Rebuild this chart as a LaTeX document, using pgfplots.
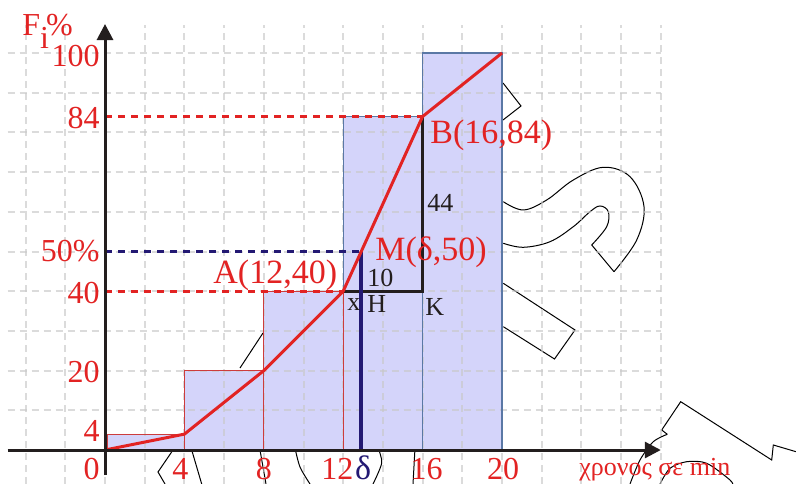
\documentclass[border=0pt]{standalone}
\usepackage{fontspec}
\setmainfont{Liberation Serif}
\usepackage{pgfplots}
\pgfplotsset{compat=1.18}
\usetikzlibrary{arrows.meta}
\definecolor{myred}{RGB}{226,35,35}
\definecolor{barfill}{RGB}{212,212,250}
\definecolor{barred}{RGB}{205,60,60}
\definecolor{barblue}{RGB}{90,120,165}
\definecolor{navy}{RGB}{35,25,115}
\definecolor{gridgray}{RGB}{200,200,200}
\definecolor{axisblack}{RGB}{35,30,30}

\begin{document}
\begin{tikzpicture}[
  big/.style={font=\fontsize{16}{18}\selectfont, inner sep=0pt},
  bigger/.style={font=\fontsize{17}{19}\selectfont, inner sep=0pt},
  small/.style={font=\fontsize{13}{15}\selectfont, inner sep=0pt},
]
% leftover clip-art outlines behind the chart (pixel coordinates)
\begin{scope}[shift={(0pt,242pt)}, x=0.5pt, y=-0.5pt, black, line width=0.5pt]
\clip (0,0) rectangle (796,484);
\draw (503,83) -- (521,106) -- (503,120);
\draw plot[smooth, tension=0.6] coordinates {(503.3,201.7) (523.3,210) (546.7,200)
  (573.3,180) (603.3,167.3) (630,176.7) (644,206.7) (636.7,240) (614,271.7)};
\draw plot[smooth, tension=0.6] coordinates {(503.3,243.3) (523.3,247.3) (550,241.7)
  (573.3,226.7) (590,211.7) (600,206) (608.3,211.7) (606.7,226.7) (591.7,245)};
\draw (591.7,245) -- (614,271.7);
\draw (503.3,283.3) -- (575,330) -- (554.5,359) -- (503.3,326.7);
\draw (667.3,434.3) -- (661.7,430) -- (680.7,401.7) -- (771.7,460) -- (773.3,445) -- (796,451.7);
\draw plot[smooth] coordinates {(667.3,434.3) (653.3,441.7) (640,460) (630,484)};
\draw plot[smooth] coordinates {(660,484) (670,468.3) (686.7,461.7) (706.7,463.3) (730,480) (733,486)};
\draw (173,450) -- (158,472) -- (165,484);
\draw (191.7,450) -- (201.7,484);
\draw (240,368) -- (263,333);
\draw (260,450) -- (266,484);
\draw plot[smooth] coordinates {(295,448) (300,467) (310,484)};
\draw plot[smooth] coordinates {(378,448) (381.7,463) (373,484)};
\draw (415,448) -- (413,484);
\end{scope}
\begin{axis}[
  x=9.925pt, y=1.985pt,
  xmin=-5.29, xmax=34.81, ymin=-8.56, ymax=113.35,
  hide axis, clip=false,
]
\path (rel axis cs:0,0) rectangle (rel axis cs:1,1);
% bar fills
\addplot[ybar interval, fill=barfill, draw=none]
  coordinates {(12,84) (16,100) (20,100)};
\addplot[ybar interval, fill=barfill, draw=none]
  coordinates {(0.1,4) (4,20) (8,40) (12,40)};
% grid (shows through the bars)
\pgfplotsinvokeforeach{-4,-2,...,28}{
  \draw[gridgray, opacity=0.65, line width=1pt, dash pattern=on 3.5pt off 2.5pt]
    (axis cs:#1,-8.56) -- (axis cs:#1,107);
}
\pgfplotsinvokeforeach{10,20,...,100}{
  \draw[gridgray, opacity=0.65, line width=1pt, dash pattern=on 3.5pt off 2.5pt]
    (axis cs:-4.9,#1) -- (axis cs:28,#1);
}
% bar outlines
\addplot[ybar interval, fill=none, draw=barblue, line width=0.6pt]
  coordinates {(12,84) (16,100) (20,100)};
\addplot[ybar interval, fill=none, draw=barred, line width=0.6pt]
  coordinates {(0.1,4) (4,20) (8,40) (12,40)};
% guide lines
\addplot[myred, line width=1.3pt, dash pattern=on 3.5pt off 3pt]
  coordinates {(0,84) (16,84)};
\addplot[myred, line width=1.3pt, dash pattern=on 3.5pt off 3pt]
  coordinates {(0,40) (12,40)};
\addplot[navy, line width=1.3pt, dash pattern=on 3.5pt off 3pt]
  coordinates {(0,50) (12.91,50)};
\addplot[axisblack, line width=1.7pt]
  coordinates {(12,40) (16,40) (16,84)};
\addplot[navy, line width=2pt]
  coordinates {(12.91,0) (12.91,50)};
% ogive
\addplot[myred, line width=1.5pt]
  coordinates {(0,0) (4,4) (8,20) (12,40) (16,84) (20,100)};
% axes
\draw[axisblack, line width=1.5pt, -{Triangle[length=8pt, width=8pt]}]
  (axis cs:-4.9,0) -- (axis cs:28,0);
\draw[axisblack, line width=1.5pt, -{Triangle[length=8pt, width=8pt]}]
  (axis cs:0,-6.3) -- (axis cs:0,107.3);
% axis titles
\node[big, text=myred, anchor=base west] at (axis cs:-4.18,104.5)
  {F\raisebox{-6.5pt}{i}\kern-1.5pt\%};
\node[small, text=myred, anchor=base] at (axis cs:27.7,-6.5) {χρονος σε min};
% y tick labels
\node[big, text=myred, anchor=east] at (axis cs:-0.25,99.3) {100};
\node[big, text=myred, anchor=east] at (axis cs:-0.25,83.6) {84};
\node[big, text=myred, anchor=east] at (axis cs:-0.25,50) {50\%};
\node[big, text=myred, anchor=east] at (axis cs:-0.25,39.5) {40};
\node[big, text=myred, anchor=east] at (axis cs:-0.25,19.6) {20};
\node[big, text=myred, anchor=east] at (axis cs:-0.25,4.8) {4};
% x tick labels
\node[big, text=myred, anchor=base east] at (axis cs:-0.25,-7.5) {0};
\node[big, text=myred, anchor=base] at (axis cs:3.8,-7.5) {4};
\node[big, text=myred, anchor=base] at (axis cs:8,-7.5) {8};
\node[big, text=myred, anchor=base] at (axis cs:11.7,-7.5) {12};
\node[bigger, text=navy, anchor=base] at (axis cs:13.0,-7.5) {δ};
\node[big, text=myred, anchor=base] at (axis cs:16.2,-7.5) {16};
\node[big, text=myred, anchor=base] at (axis cs:20.05,-7.5) {20};
% point labels
\node[bigger, text=myred, anchor=base west] at (axis cs:5.44,42) {A(12,40)};
\node[bigger, text=myred, anchor=base west] at (axis cs:13.6,47.8) {M(δ,50)};
\node[bigger, text=myred, anchor=base west] at (axis cs:16.37,77.3) {B(16,84)};
\node[small, text=axisblack, anchor=base west] at (axis cs:16.22,60) {44};
\node[small, text=axisblack, anchor=base west] at (axis cs:13.2,41.2) {10};
\node[small, text=axisblack, anchor=base west] at (axis cs:12.19,35.1) {x};
\node[small, text=axisblack, anchor=base west] at (axis cs:13.2,34.6) {H};
\node[small, text=axisblack, anchor=base west] at (axis cs:16.12,34) {K};
\end{axis}
\end{tikzpicture}
\end{document}
